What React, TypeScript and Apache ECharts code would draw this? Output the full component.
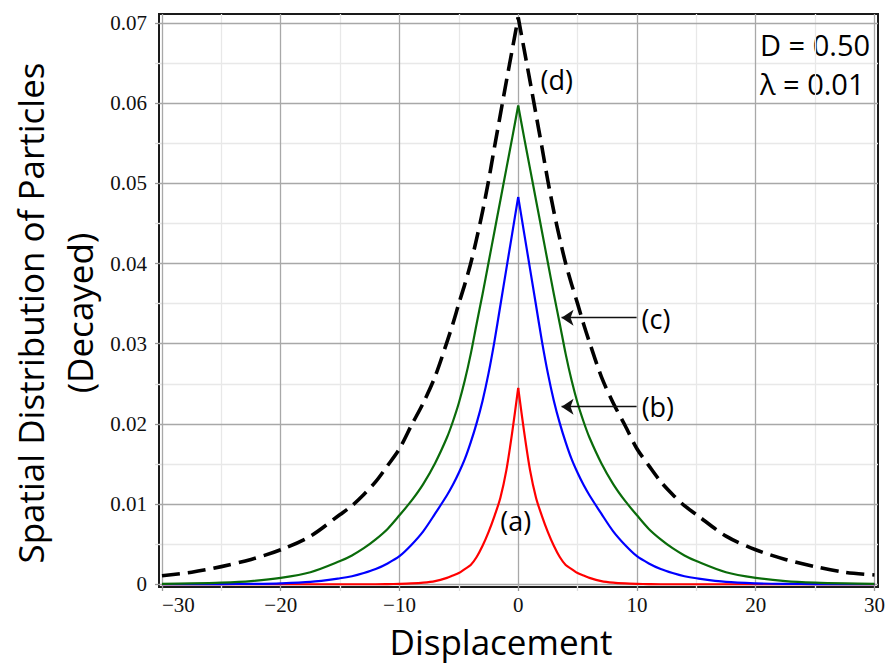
import React, { useEffect, useRef } from 'react';
import * as echarts from 'echarts';

// Displacement grid (x) shared by all curves
const displacement = [
  -30, -27.5, -25, -22.5, -20, -17.5, -15, -14, -13, -12, -11, -10, -9, -8, -7, -6,
  -5.5, -5, -4.5, -4, -3.5, -3, -2.5, -2, -1.5, -1, -0.5, 0,
  0.5, 1, 1.5, 2, 2.5, 3, 3.5, 4, 4.5, 5, 5.5,
  6, 7, 8, 9, 10, 11, 12, 13, 14, 15, 17.5, 20, 22.5, 25, 27.5, 30,
];
const PEAK_INDEX = 27; // index of displacement 0

// (a) red
const curveA = [
  0, 0, 0, 0, 0, 0, 0, 0, 0, 0, 0.00002, 0.00005, 0.0001, 0.0002, 0.0004, 0.0008,
  0.0011, 0.0014, 0.0019, 0.0024, 0.0034, 0.0048, 0.0065, 0.0085, 0.0108, 0.0142, 0.019, 0.0245,
  0.019, 0.0142, 0.0108, 0.0085, 0.0065, 0.0048, 0.0034, 0.0024, 0.0019, 0.0014, 0.0011,
  0.0008, 0.0004, 0.0002, 0.0001, 0.00005, 0.00002, 0, 0, 0, 0, 0, 0, 0, 0, 0, 0,
];

// (b) blue
const curveB = [
  0, 0, 0.00002, 0.00005, 0.00012, 0.0003, 0.00075, 0.001, 0.0014, 0.0019, 0.0026, 0.0035, 0.0049, 0.0066, 0.0088, 0.0111,
  0.0124, 0.0139, 0.0156, 0.0177, 0.0201, 0.0229, 0.0263, 0.0303, 0.0348, 0.0393, 0.0438, 0.0483,
  0.0438, 0.0393, 0.0348, 0.0303, 0.0263, 0.0229, 0.0201, 0.0177, 0.0156, 0.0139, 0.0124,
  0.0111, 0.0088, 0.0066, 0.0049, 0.0035, 0.0026, 0.0019, 0.0014, 0.001, 0.00075, 0.0003, 0.00012, 0.00005, 0.00002, 0, 0,
];

// (c) green
const curveC = [
  0.00005, 0.0001, 0.0002, 0.0004, 0.0008, 0.0015, 0.0029, 0.0036, 0.0045, 0.0056, 0.0069, 0.0086, 0.0104, 0.0125, 0.0151, 0.0183,
  0.0203, 0.0226, 0.0254, 0.0287, 0.0325, 0.0362, 0.0401, 0.044, 0.0479, 0.0518, 0.0557, 0.0597,
  0.0557, 0.0518, 0.0479, 0.044, 0.0401, 0.0362, 0.0325, 0.0287, 0.0254, 0.0226, 0.0203,
  0.0183, 0.0151, 0.0125, 0.0104, 0.0086, 0.0069, 0.0056, 0.0045, 0.0036, 0.0029, 0.0015, 0.0008, 0.0004, 0.0002, 0.0001, 0.00005,
];

// (d) black dashed
const curveD = [
  0.00107, 0.0015, 0.0022, 0.0031, 0.0043, 0.006, 0.0087, 0.0098, 0.0112, 0.0128, 0.0148, 0.0169, 0.0198, 0.0226, 0.0259, 0.0302,
  0.0325, 0.035, 0.0374, 0.04, 0.0431, 0.0465, 0.0503, 0.0545, 0.0586, 0.0627, 0.0667, 0.0707,
  0.0667, 0.0627, 0.0586, 0.0545, 0.0503, 0.0465, 0.0431, 0.04, 0.0374, 0.035, 0.0325,
  0.0302, 0.0259, 0.0226, 0.0198, 0.0169, 0.0148, 0.0128, 0.0112, 0.0098, 0.0087, 0.006, 0.0043, 0.0031, 0.0022, 0.0015, 0.00116,
];

const xMajorTicks = [-30, -20, -10, 0, 10, 20, 30];
const xMinorTicks = [-25, -15, -5, 5, 15, 25];
const yMajorTicks = [0, 0.01, 0.02, 0.03, 0.04, 0.05, 0.06, 0.07];
const yMinorTicks = [0.005, 0.015, 0.025, 0.035, 0.045, 0.055, 0.065];

// curve labels
const labelTexts = ['(a)', '(b)', '(c)', '(d)'];
const labelX = [-0.2, 11.76, 11.6, 3.25];
const labelY = [0.0079, 0.02215, 0.0332, 0.0629];

// arrows for (b) and (c)
const arrowY = [0.02214, 0.03324];
const arrowFromX = 9.97;
const arrowToX = 3.65;

const paramText = ['D = 0.50', 'λ = 0.01'];

const SANS = '"Open Sans", "Noto Sans", sans-serif';
const SERIF = '"Liberation Serif", "DejaVu Serif", serif';

const pairs = (ys: number[], from: number, to: number) =>
  displacement.slice(from, to + 1).map((x, i) => [x, ys[from + i]]);

export default function App() {
  const ref = useRef<HTMLDivElement>(null);
  useEffect(() => {
    if (!ref.current) return;
    const chart = echarts.init(ref.current, undefined, { renderer: 'svg' });
    const halfSeries = (name: string, ys: number[], color: string, width: number, type: any, side: 'L' | 'R') => ({
      name,
      type: 'line',
      data: side === 'L' ? pairs(ys, 0, PEAK_INDEX) : pairs(ys, PEAK_INDEX, displacement.length - 1),
      showSymbol: false,
      symbol: 'none',
      smooth: 0.3,
      silent: true,
      lineStyle: { color, width, type, cap: 'butt', join: 'miter' },
      z: 3,
    });
    const curve = (name: string, ys: number[], color: string, width: number, type: any) => [
      halfSeries(name, ys, color, width, type, 'L'),
      halfSeries(name, ys, color, width, type, 'R'),
    ];
    chart.setOption({
      animation: false,
      backgroundColor: '#ffffff',
      grid: {
        left: 159,
        right: 18,
        top: 14,
        bottom: 78,
        show: true,
        borderColor: '#1a1a1a',
        borderWidth: 2,
        backgroundColor: 'transparent',
        containLabel: false,
        outerBoundsMode: 'none',
      },
      xAxis: [
        {
          type: 'value',
          min: -30.25,
          max: 30.3,
          position: 'bottom',
          z: 1,
          axisLine: { show: false, onZero: false },
          axisTick: { show: true, customValues: xMajorTicks, length: 4, lineStyle: { color: '#9a9a9a', width: 1.3 } },
          axisLabel: {
            show: true,
            customValues: xMajorTicks,
            alignMinLabel: 'left',
            formatter: (v: number) => (v < 0 ? '\u2212' + Math.abs(v) : String(v)),
            fontFamily: SERIF,
            fontSize: 21,
            color: '#111',
            margin: 7,
          },
          splitLine: { show: true, lineStyle: { color: '#a8a8a8', width: 1.3 } },
        },
        {
          type: 'value',
          min: -30.25,
          max: 30.3,
          position: 'bottom',
          z: 0,
          axisLine: { show: false, onZero: false },
          axisTick: { show: true, customValues: xMinorTicks, length: 4, lineStyle: { color: '#dddddd', width: 1.3 } },
          axisLabel: { show: false },
          splitLine: { show: true, lineStyle: { color: '#e8e8e8', width: 1.3 } },
        },
      ],
      yAxis: [
        {
          type: 'value',
          min: -0.00034,
          max: 0.07112,
          position: 'left',
          z: 1,
          axisLine: { show: false, onZero: false },
          axisTick: { show: true, customValues: yMajorTicks, length: 4, lineStyle: { color: '#9a9a9a', width: 1.3 } },
          axisLabel: {
            show: true,
            customValues: yMajorTicks,
            formatter: (v: number) => (Math.abs(v) < 1e-9 ? '0' : v.toFixed(2)),
            fontFamily: SERIF,
            fontSize: 21,
            color: '#111',
            margin: 12,
          },
          splitLine: { show: true, lineStyle: { color: '#a8a8a8', width: 1.3 } },
        },
        {
          type: 'value',
          min: -0.00034,
          max: 0.07112,
          position: 'left',
          z: 0,
          axisLine: { show: false, onZero: false },
          axisTick: { show: true, customValues: yMinorTicks, length: 4, lineStyle: { color: '#dddddd', width: 1.3 } },
          axisLabel: { show: false },
          splitLine: { show: true, lineStyle: { color: '#e8e8e8', width: 1.3 } },
        },
      ],
      series: [
        ...curve('(a)', curveA, '#ff0000', 2.2, 'solid'),
        ...curve('(b)', curveB, '#0000ff', 2.2, 'solid'),
        ...curve('(c)', curveC, '#0a6b0a', 2.2, 'solid'),
        ...curve('(d)', curveD, '#000000', 3.6, [18, 8]),
        {
          name: 'labels',
          type: 'scatter',
          silent: true,
          symbolSize: 1,
          itemStyle: { opacity: 0 },
          z: 5,
          data: labelTexts.map((t, i) => ({ value: [labelX[i], labelY[i]], name: t })),
          label: {
            show: true,
            position: 'inside',
            formatter: (p: any) => p.name,
            fontFamily: SANS,
            fontSize: 27,
            color: '#000',
            opacity: 1,
          },
          markLine: {
            silent: true,
            animation: false,
            symbol: ['none', 'arrow'],
            symbolSize: 12,
            label: { show: false },
            lineStyle: { color: '#111', width: 1.3, type: 'solid', opacity: 1 },
            itemStyle: { color: '#111', opacity: 1 },
            data: arrowY.map((y) => [{ coord: [arrowFromX, y] }, { coord: [arrowToX, y] }]),
          },
        },
      ],
      graphic: [
        {
          type: 'text',
          left: 760,
          top: 30,
          style: { text: paramText[0], font: `29px ${SANS}`, fill: '#000' },
        },
        {
          type: 'text',
          left: 760,
          top: 69,
          style: { text: paramText[1], font: `29px ${SANS}`, fill: '#000' },
        },
        {
          type: 'text',
          x: 55,
          y: 313,
          rotation: Math.PI / 2,
          style: {
            text: 'Spatial Distribution of Particles\n(Decayed)',
            font: `35px ${SANS}`,
            fill: '#000',
            align: 'center',
            verticalAlign: 'middle',
            lineHeight: 49,
          },
        },
        {
          type: 'text',
          x: 501,
          y: 641,
          style: {
            text: 'Displacement',
            font: `35px ${SANS}`,
            fill: '#000',
            align: 'center',
            verticalAlign: 'middle',
          },
        },
      ],
    });
    return () => chart.dispose();
  }, []);
  return (
    <div
      ref={ref}
      style={{ position: 'absolute', left: 0, top: 0, width: 896, height: 665, background: '#fff' }}
    />
  );
}
